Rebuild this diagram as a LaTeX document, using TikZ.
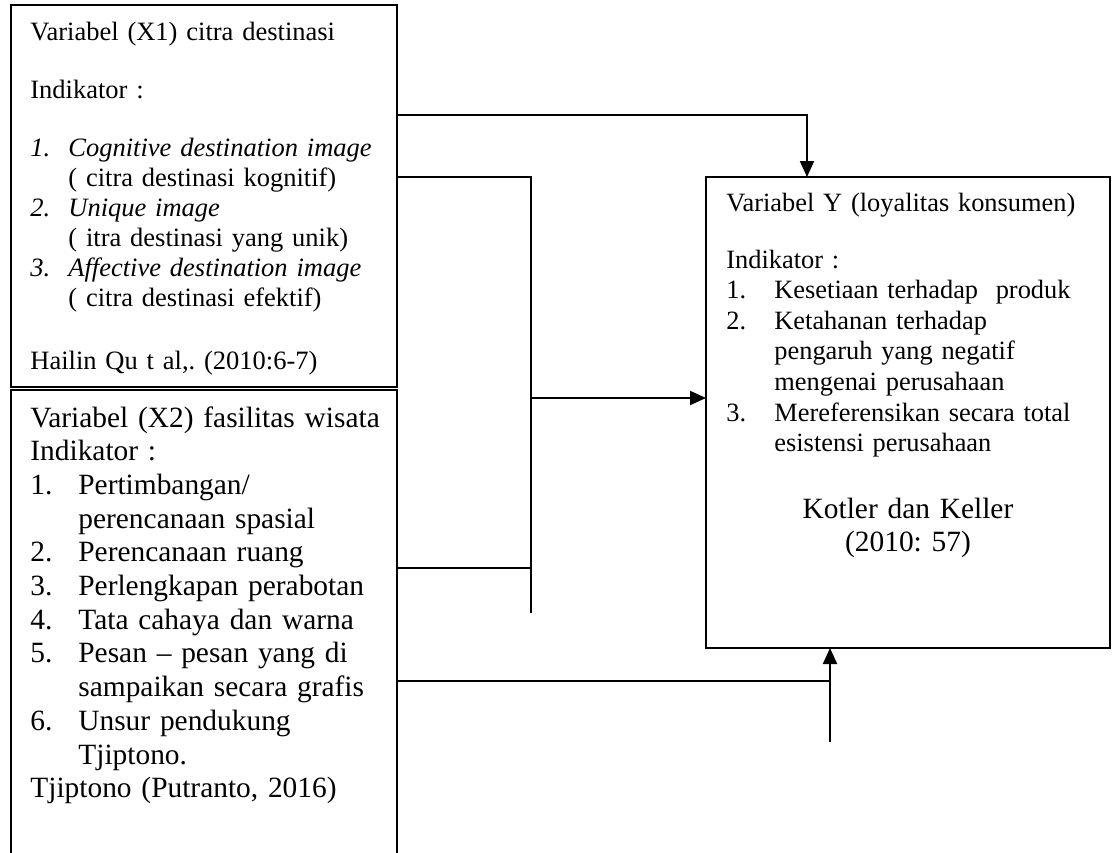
\documentclass[tikz,border=0pt]{standalone}
\usepackage{fontspec}
\setmainfont{Liberation Serif}
\usetikzlibrary{arrows.meta,positioning}
\frenchspacing

\begin{document}
\begin{tikzpicture}[x=0.5pt,y=-0.5pt,
  box/.style={draw,line width=1pt,inner sep=0pt,outer sep=0pt,anchor=north west},
  txt/.style={anchor=base west,inner sep=0pt,align=left},
  line/.style={line width=1pt},
  arr/.style={line width=1pt,-{Triangle[length=8pt,width=7pt]}}]
\useasboundingbox (0,0) rectangle (1113,852);
\node[box,minimum width=193pt,minimum height=191pt] (x1) at (11,5) {};
\node[box,minimum width=193pt,minimum height=240pt] (x2) at (11,390) {};
\node[box,minimum width=202pt,minimum height=235.5pt] (yvar) at (706,177) {};
\node[txt,text width=185pt,font=\fontsize{13.25pt}{15pt}\selectfont] (x1t) at (30,40) {%
Variabel (X1) citra destinasi\\[14pt]
Indikator :\\[14pt]
\makebox[19pt][l]{\itshape 1.}\textit{Cognitive destination image}\\
\hspace*{19pt}( citra destinasi kognitif)\\
\makebox[19pt][l]{\itshape 2.}\textit{Unique image}\\
\hspace*{19pt}( itra destinasi yang unik)\\
\makebox[19pt][l]{\itshape 3.}\textit{Affective destination image}\\
\hspace*{19pt}( citra destinasi efektif)\\[16.5pt]
Hailin Qu t al,. (2010:6-7)};
\node[txt,text width=185pt,font=\fontsize{14.7pt}{16.85pt}\selectfont] (x2t) at (30,427) {%
Variabel (X2) fasilitas wisata\\
Indikator :\\
\makebox[24pt][l]{1.}Pertimbangan/\\
\hspace*{24pt}perencanaan spasial\\
\makebox[24pt][l]{2.}Perencanaan ruang\\
\makebox[24pt][l]{3.}Perlengkapan perabotan\\
\makebox[24pt][l]{4.}Tata cahaya dan warna\\
\makebox[24pt][l]{5.}Pesan -- pesan yang di\\
\hspace*{24pt}sampaikan secara grafis\\
\makebox[24pt][l]{6.}Unsur pendukung\\
\hspace*{24pt}Tjiptono.\\
Tjiptono (Putranto, 2016)};
\node[txt,text width=190pt,font=\fontsize{13.2pt}{15.3pt}\selectfont] (yt) at (726,211) {%
Variabel Y (loyalitas konsumen)\\[13.2pt]
Indikator :\\
\makebox[24pt][l]{1.}Kesetiaan terhadap~ produk\\
\makebox[24pt][l]{2.}Ketahanan terhadap\\
\hspace*{24pt}pengaruh yang negatif\\
\hspace*{24pt}mengenai perusahaan\\
\makebox[24pt][l]{3.}Mereferensikan secara total\\
\hspace*{24pt}esistensi perusahaan};
\node[anchor=base,inner sep=0pt,text width=150pt,align=center,font=\fontsize{14.7pt}{16.5pt}\selectfont] (yref) at (908,518) {Kotler dan Keller\\(2010: 57)};
% connectors
\coordinate (a1) at (807,115);
\coordinate (j1) at (531,177);
\coordinate (j2) at (531,613);
\coordinate (k1) at (830,742);
\draw[arr] (x1.east |- a1) -- (a1) -- (a1 |- yvar.north);
\draw[line] (x1.east |- j1) -- (j1) -- (j2);
\draw[line] (x2.east |- 0,568) -- (j1 |- 0,568);
\draw[arr] (j1 |- 0,398) -- (yvar.west |- 0,398);
\draw[line] (x2.east |- 0,681) -- (k1 |- 0,681);
\draw[arr] (k1) -- (k1 |- yvar.south);
\end{tikzpicture}
\end{document}
